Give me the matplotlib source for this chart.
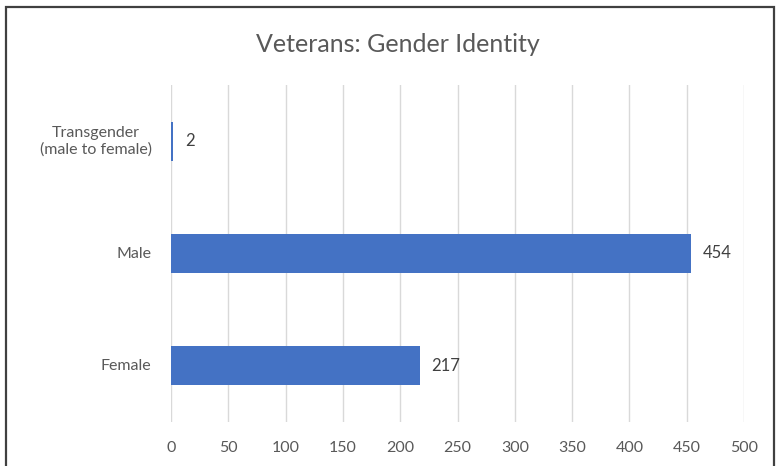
import matplotlib.pyplot as plt
from matplotlib.patches import Rectangle

# data (bottom to top)
categories = ['Female', 'Male', 'Transgender\n(male to female)']
counts = [217, 454, 2]
xticks = [0, 50, 100, 150, 200, 250, 300, 350, 400, 450, 500]

bar_color = '#4472C4'
text_color = '#595959'

plt.rcParams['font.family'] = ['Lato', 'DejaVu Sans']

fig = plt.figure(figsize=(7.77, 4.66), dpi=100)
ax = fig.add_axes([171 / 777, 1 - 422 / 466, 573 / 777, 337 / 466])

# outer chart border
fig.patches.append(Rectangle((6 / 777, -0.05), 768 / 777, 1 - 6.5 / 466 + 0.05,
                             transform=fig.transFigure, fill=False,
                             edgecolor='#404040', linewidth=1.6))

ypos = range(len(categories))
ax.barh(ypos, counts, height=0.35, color=bar_color, zorder=3)

for y, v in zip(ypos, counts):
    ax.text(v + 10, y, str(v), va='center', ha='left', fontsize=12, color='#404040')

ax.set_xlim(0, 500)
ax.set_ylim(-0.5, 2.5)
ax.set_xticks(xticks)
ax.set_yticks(list(ypos))
ax.set_yticklabels(categories, multialignment='center', va='center')
ax.tick_params(axis='both', length=0, colors=text_color, labelsize=11.5)
ax.tick_params(axis='y', pad=14)
ax.tick_params(axis='x', pad=14)
ax.grid(axis='x', color='#D9D9D9', linewidth=1, zorder=0)
for s in ax.spines.values():
    s.set_visible(False)

fig.text(0.512, 1 - 45 / 466, 'Veterans: Gender Identity', ha='center', va='center',
         fontsize=18, color=text_color)

fig.savefig('out.png', dpi=100)
